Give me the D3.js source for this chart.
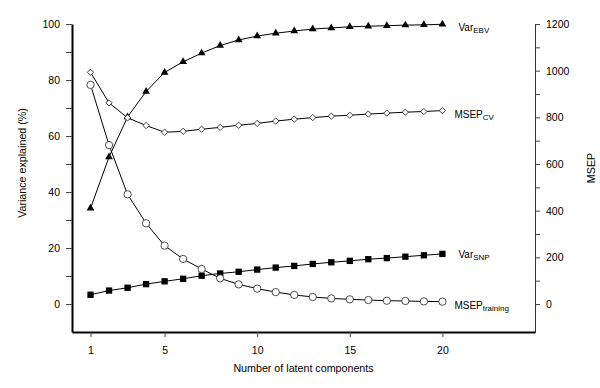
<!DOCTYPE html>
<html>
<head>
<meta charset="utf-8">
<script src="https://cdn.jsdelivr.net/npm/d3@7"></script>
<style>
  body { margin: 0; background: #fff; }
  svg text { font-family: "Liberation Sans", Arial, sans-serif; fill: #000; }
</style>
</head>
<body>
<div id="chart"></div>
<script>
// number of latent components
var components = d3.range(1, 21);

// variance explained (%) - left axis
var varEBV = [34.2, 52.5, 66.8, 75.9, 82.7, 86.5, 89.6, 92.3, 94.3, 95.7,
              96.7, 97.5, 98.2, 98.6, 99.0, 99.2, 99.4, 99.6, 99.7, 99.9];
var varSNP = [3.3, 4.8, 5.8, 7.1, 8.1, 9.0, 10.1, 10.9, 11.5, 12.3,
              13.0, 13.6, 14.3, 14.9, 15.4, 16.0, 16.4, 16.9, 17.4, 17.9];

// MSEP - right axis
var msepCV = [993, 862, 798, 765, 736, 740, 749, 757, 766, 774,
              784, 792, 799, 805, 809, 814, 818, 822, 825, 829];
var msepTraining = [939, 681, 470, 346, 250, 193, 150, 110, 84, 66,
                    51, 39, 30, 24, 20, 17, 14, 13, 11, 10];

// tick values
var xTicks = [1, 5, 10, 15, 20];
var leftMajor = [0, 20, 40, 60, 80, 100];
var leftMinor = [10, 30, 50, 70, 90];
var rightMajor = [0, 200, 400, 600, 800, 1000, 1200];
var rightMinor = [100, 300, 500, 700, 900, 1100];

var width = 600, height = 388;
var margin = {top: 24, right: 65, bottom: 56, left: 72};

var svg = d3.select("#chart").append("svg")
    .attr("width", width)
    .attr("height", height);

var x = d3.scaleLinear()
    .domain([0, 25])
    .range([margin.left, width - margin.right]);

var yL = d3.scaleLinear()
    .domain([-10, 100])
    .range([height - margin.bottom, margin.top]);

var yR = d3.scaleLinear()
    .domain([-120, 1200])
    .range([height - margin.bottom, margin.top]);

// left axis
svg.append("g")
    .attr("transform", `translate(${margin.left},0)`)
    .call(d3.axisLeft(yL).tickValues(leftMajor).tickSize(6).tickSizeOuter(0).tickPadding(6))
    .call(g => g.select(".domain").attr("stroke-width", 2))
    .call(g => g.selectAll(".tick line").attr("stroke", "#444"))
    .call(g => g.selectAll(".tick text").style("font-size", "10.5px"));
svg.append("g")
    .attr("transform", `translate(${margin.left},0)`)
    .call(d3.axisLeft(yL).tickValues(leftMinor).tickSize(6).tickFormat(""))
    .call(g => g.select(".domain").remove())
    .call(g => g.selectAll(".tick line").attr("stroke", "#444"));

// right axis
svg.append("g")
    .attr("transform", `translate(${width - margin.right},0)`)
    .call(d3.axisRight(yR).tickValues(rightMajor).tickFormat(d3.format("d"))
        .tickSize(5).tickSizeOuter(0).tickPadding(6))
    .call(g => g.select(".domain").attr("stroke", "#333"))
    .call(g => g.selectAll(".tick line").attr("stroke", "#444"))
    .call(g => g.selectAll(".tick text").style("font-size", "10.5px"));
svg.append("g")
    .attr("transform", `translate(${width - margin.right},0)`)
    .call(d3.axisRight(yR).tickValues(rightMinor).tickSize(5).tickFormat(""))
    .call(g => g.select(".domain").remove())
    .call(g => g.selectAll(".tick line").attr("stroke", "#444"));

// bottom axis
svg.append("g")
    .attr("transform", `translate(0,${height - margin.bottom})`)
    .call(d3.axisBottom(x).tickValues(xTicks).tickSize(5).tickSizeOuter(0).tickPadding(10))
    .call(g => g.select(".domain").attr("stroke-width", 2))
    .call(g => g.selectAll(".tick line").attr("stroke", "#444"))
    .call(g => g.selectAll(".tick text").style("font-size", "10.5px"));

// axis titles
svg.append("text")
    .attr("x", (x.range()[0] + x.range()[1]) / 2)
    .attr("y", 372)
    .attr("text-anchor", "middle")
    .style("font-size", "10.7px")
    .text("Number of latent components");

svg.append("text")
    .attr("transform", "translate(26,163) rotate(-90)")
    .attr("text-anchor", "middle")
    .style("font-size", "10.7px")
    .text("Variance explained (%)");

svg.append("text")
    .attr("transform", "translate(595,168) rotate(-90)")
    .attr("text-anchor", "middle")
    .style("font-size", "10.7px")
    .text("MSEP");

// series (diamond = square turned 45 degrees)
var series = [
    {name: "Var", sub: "EBV", values: varEBV, y: yL, symbol: d3.symbolTriangle, size: 26, rot: 0, fill: "#000", dx: 16, dy: 6.5},
    {name: "MSEP", sub: "CV", values: msepCV, y: yR, symbol: d3.symbolSquare, size: 20, rot: 45, fill: "#fff", dx: 12, dy: 7},
    {name: "Var", sub: "SNP", values: varSNP, y: yL, symbol: d3.symbolSquare, size: 40, rot: 0, fill: "#000", dx: 16, dy: 4},
    {name: "MSEP", sub: "training", values: msepTraining, y: yR, symbol: d3.symbolCircle, size: 42, rot: 0, fill: "#fff", dx: 12, dy: 7}
];

series.forEach(function(s) {
    var pts = components.map(function(c, i) { return {c: c, v: s.values[i]}; });

    var line = d3.line()
        .x(function(d) { return x(d.c); })
        .y(function(d) { return s.y(d.v); });

    svg.append("path")
        .datum(pts)
        .attr("d", line)
        .attr("fill", "none")
        .attr("stroke", "#000")
        .attr("stroke-width", 1);

    svg.append("g").selectAll("path")
        .data(pts)
        .enter()
        .append("path")
            .attr("transform", function(d) { return `translate(${x(d.c)},${s.y(d.v)}) rotate(${s.rot})`; })
            .attr("d", d3.symbol().type(s.symbol).size(s.size))
            .attr("fill", s.fill)
            .attr("stroke", s.fill === "#fff" ? "#222" : "none")
            .attr("stroke-width", 0.8);

    // label next to the last point
    var last = pts[pts.length - 1];
    var t = svg.append("text")
        .attr("x", x(last.c) + s.dx)
        .attr("y", s.y(last.v) + s.dy)
        .style("font-size", "10px")
        .text(s.name);
    t.append("tspan")
        .attr("dy", 2.5)
        .style("font-size", "8px")
        .text(s.sub);
});
</script>
</body>
</html>
